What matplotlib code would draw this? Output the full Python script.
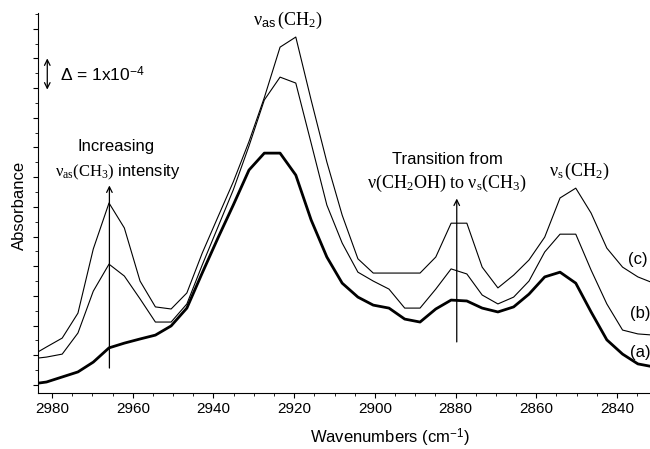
import matplotlib
matplotlib.use("Agg")
import matplotlib.pyplot as plt
from matplotlib.ticker import MultipleLocator

plt.rcParams['font.family'] = ['Liberation Sans', 'DejaVu Sans']
plt.rcParams['mathtext.fontset'] = 'custom'
plt.rcParams['mathtext.rm'] = 'Liberation Serif'
plt.rcParams['mathtext.it'] = 'Liberation Serif:italic'
plt.rcParams['mathtext.sf'] = 'Liberation Sans'

wavenumbers = [2985.2, 2981.4, 2977.5, 2973.6, 2969.8, 2965.9, 2962.1, 2958.2, 2954.4, 2950.5,
               2946.6, 2942.8, 2938.9, 2935.1, 2931.2, 2927.4, 2923.5, 2919.6, 2915.8, 2911.9,
               2908.1, 2904.2, 2900.4, 2896.5, 2892.6, 2888.8, 2884.9, 2881.1, 2877.2, 2873.4,
               2869.5, 2865.6, 2861.8, 2857.9, 2854.1, 2850.2, 2846.4, 2842.5, 2838.6, 2834.8,
               2830.9]

spec_c = [0.98, 1.28, 1.58, 2.42, 4.58, 6.13, 5.29, 3.50, 2.63, 2.56,
          3.10, 4.44, 5.66, 6.84, 8.20, 9.68, 11.38, 11.72, 9.60, 7.51,
          5.72, 4.25, 3.77, 3.77, 3.77, 3.77, 4.31, 5.45, 5.45, 3.97,
          3.27, 3.70, 4.21, 4.98, 6.30, 6.63, 5.79, 4.61, 3.97, 3.64,
          3.43]

spec_b = [0.88, 0.94, 1.04, 1.75, 3.16, 4.07, 3.67, 2.90, 2.12, 2.12,
          2.73, 4.04, 5.32, 6.57, 8.05, 9.60, 10.37, 10.17, 8.15, 6.06,
          4.78, 3.80, 3.50, 3.23, 2.59, 2.59, 3.23, 3.91, 3.74, 3.03,
          2.73, 2.96, 3.50, 4.48, 5.08, 5.08, 3.87, 2.73, 1.85, 1.72,
          1.68]

spec_a = [0.03, 0.10, 0.27, 0.44, 0.77, 1.25, 1.41, 1.55, 1.68, 1.99,
          2.59, 3.77, 4.95, 6.06, 7.24, 7.81, 7.81, 7.07, 5.56, 4.31,
          3.43, 2.96, 2.69, 2.59, 2.22, 2.12, 2.56, 2.86, 2.83, 2.59,
          2.46, 2.63, 3.06, 3.64, 3.80, 3.43, 2.46, 1.52, 1.04, 0.71,
          0.61]

xticks = [2980, 2960, 2940, 2920, 2900, 2880, 2860, 2840]

fig = plt.figure(figsize=(6.5, 4.49), dpi=100)
ax = fig.add_axes([38/650, 56/449, 612/650, 380/449])

ax.plot(wavenumbers, spec_c, color='black', lw=0.8)
ax.plot(wavenumbers, spec_b, color='black', lw=0.8)
ax.plot(wavenumbers, spec_a, color='black', lw=2.0)

ax.set_xlim(2983.5, 2831.8)
ax.set_ylim(-0.27, 12.53)

ax.spines['top'].set_visible(False)
ax.spines['right'].set_visible(False)
ax.set_xticks(xticks)
ax.xaxis.set_minor_locator(MultipleLocator(5))
ax.yaxis.set_major_locator(MultipleLocator(1))
ax.yaxis.set_minor_locator(MultipleLocator(0.5))
ax.set_yticklabels([])
ax.tick_params(axis='both', which='major', direction='out', length=3.5, width=0.8, labelsize=11, pad=3)
ax.tick_params(axis='both', which='minor', direction='out', length=2, width=0.6)

ax.set_xlabel('Wavenumbers (cm$^{\\mathsf{-1}}$)', fontsize=12)
ax.xaxis.set_label_coords((390-38)/612, -(438-393)/380 - 0.0)
ax.xaxis.label.set_va('center')
ax.set_ylabel('Absorbance', fontsize=12)
ax.yaxis.set_label_coords(-(38-19)/612, (393-205)/380)
ax.yaxis.label.set_va('center')

# annotations
ax.text(2921.5, 12.29, r'$\mathrm{\nu}_{\mathsf{as}}\mathrm{\,(CH_2)}$', fontsize=13,
        ha='center', va='center')
ax.annotate('', xy=(2981.2, 11.0), xytext=(2981.2, 9.95),
            arrowprops=dict(arrowstyle='<->', lw=0.9, color='black', shrinkA=0, shrinkB=0))
ax.text(2978.0, 10.44, 'Δ = 1x10$^{\\mathsf{-4}}$', fontsize=12.5, ha='left', va='center')

ax.text(2964.1, 8.05, 'Increasing', fontsize=12, ha='center', va='center')
ax.text(2963.6, 7.17, r'$\mathrm{\nu_{as}(CH_3)}$ intensity', fontsize=12, ha='center', va='center')
ax.annotate('', xy=(2965.8, 6.72), xytext=(2965.8, 0.57),
            arrowprops=dict(arrowstyle='->', lw=0.9, color='black', shrinkA=0, shrinkB=0))

ax.text(2882.0, 7.58, 'Transition from', fontsize=12, ha='center', va='center')
ax.text(2882.3, 6.80, r'$\mathrm{\nu(CH_2OH)\ to\ \nu_s(CH_3)}$', fontsize=13,
        ha='center', va='center')
ax.annotate('', xy=(2879.7, 6.28), xytext=(2879.7, 1.45),
            arrowprops=dict(arrowstyle='->', lw=0.9, color='black', shrinkA=0, shrinkB=0))

ax.text(2849.2, 7.2, r'$\mathrm{\nu_s\,(CH_2)}$', fontsize=13, ha='center', va='center')

ax.text(2837.3, 4.24, '(c)', fontsize=12, ha='left', va='center', clip_on=False)
ax.text(2836.8, 2.42, '(b)', fontsize=12, ha='left', va='center', clip_on=False)
ax.text(2836.8, 1.11, '(a)', fontsize=12, ha='left', va='center', clip_on=False)

fig.savefig('out.png', dpi=100)
